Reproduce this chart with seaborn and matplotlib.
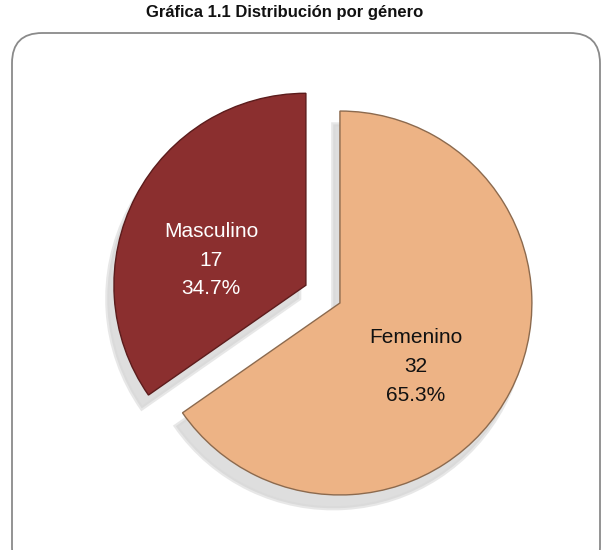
import matplotlib
matplotlib.use("Agg")
import matplotlib.pyplot as plt
import seaborn as sns
from matplotlib.patches import FancyBboxPatch

# Data
labels = ["Masculino", "Femenino"]
counts = [17, 32]
colors = ["#8B2F2F", "#EDB385"]
edge_colors = ["#5C1C1C", "#8C6A4E"]
text_colors = ["white", "#111111"]
explode = [0.2, 0.0]

sns.set_theme(style="white")
plt.rcParams['font.family'] = ['Liberation Sans', 'DejaVu Sans']

fig = plt.figure(figsize=(6.03, 5.5), dpi=100)
fig.patch.set_facecolor("white")

# Rounded frame around the chart area
frame = FancyBboxPatch((12 / 603, -0.05), 588 / 603, 0.99,
                       boxstyle="round,pad=0,rounding_size=0.05",
                       transform=fig.transFigure, mutation_aspect=603 / 550,
                       facecolor="none", edgecolor="#8A8A8A", linewidth=1.3,
                       zorder=-1)
fig.patches.append(frame)

fig.text(285 / 603, 0.978, "Gráfica 1.1 Distribución por género", ha="center", va="center",
         fontsize=12, fontweight="bold", color="#111111")

ax = fig.add_axes([0.0544, 0.0127, 0.955, 0.9426])
ax.set_facecolor("none")

total = sum(counts)


def make_label(pct):
    n = int(round(pct * total / 100.0))
    name = labels[counts.index(n)]
    return f"{name}\n{n}\n{pct:.1f}%"


wedges, texts, autotexts = ax.pie(
    counts, colors=colors, explode=explode, startangle=90, counterclock=True,
    autopct=make_label, pctdistance=0.5,
    shadow={'ox': -0.025, 'oy': -0.05, 'facecolor': '#C8C8C8',
            'edgecolor': '#D8D8D8', 'linewidth': 3, 'alpha': 0.6},
    wedgeprops={'linewidth': 1.0},
    textprops={'fontsize': 15, 'linespacing': 1.65},
)
for w, ec in zip(wedges, edge_colors):
    w.set_edgecolor(ec)
for t, c in zip(autotexts, text_colors):
    t.set_color(c)
    x, y = t.get_position()
    t.set_position((x - 0.05, y - 0.1))

ax.set_xlim(-1.6, 1.4)
ax.set_ylim(-1.25, 1.45)
ax.set_aspect("equal")
ax.axis("off")

fig.savefig("out.png", dpi=100, facecolor="white")
